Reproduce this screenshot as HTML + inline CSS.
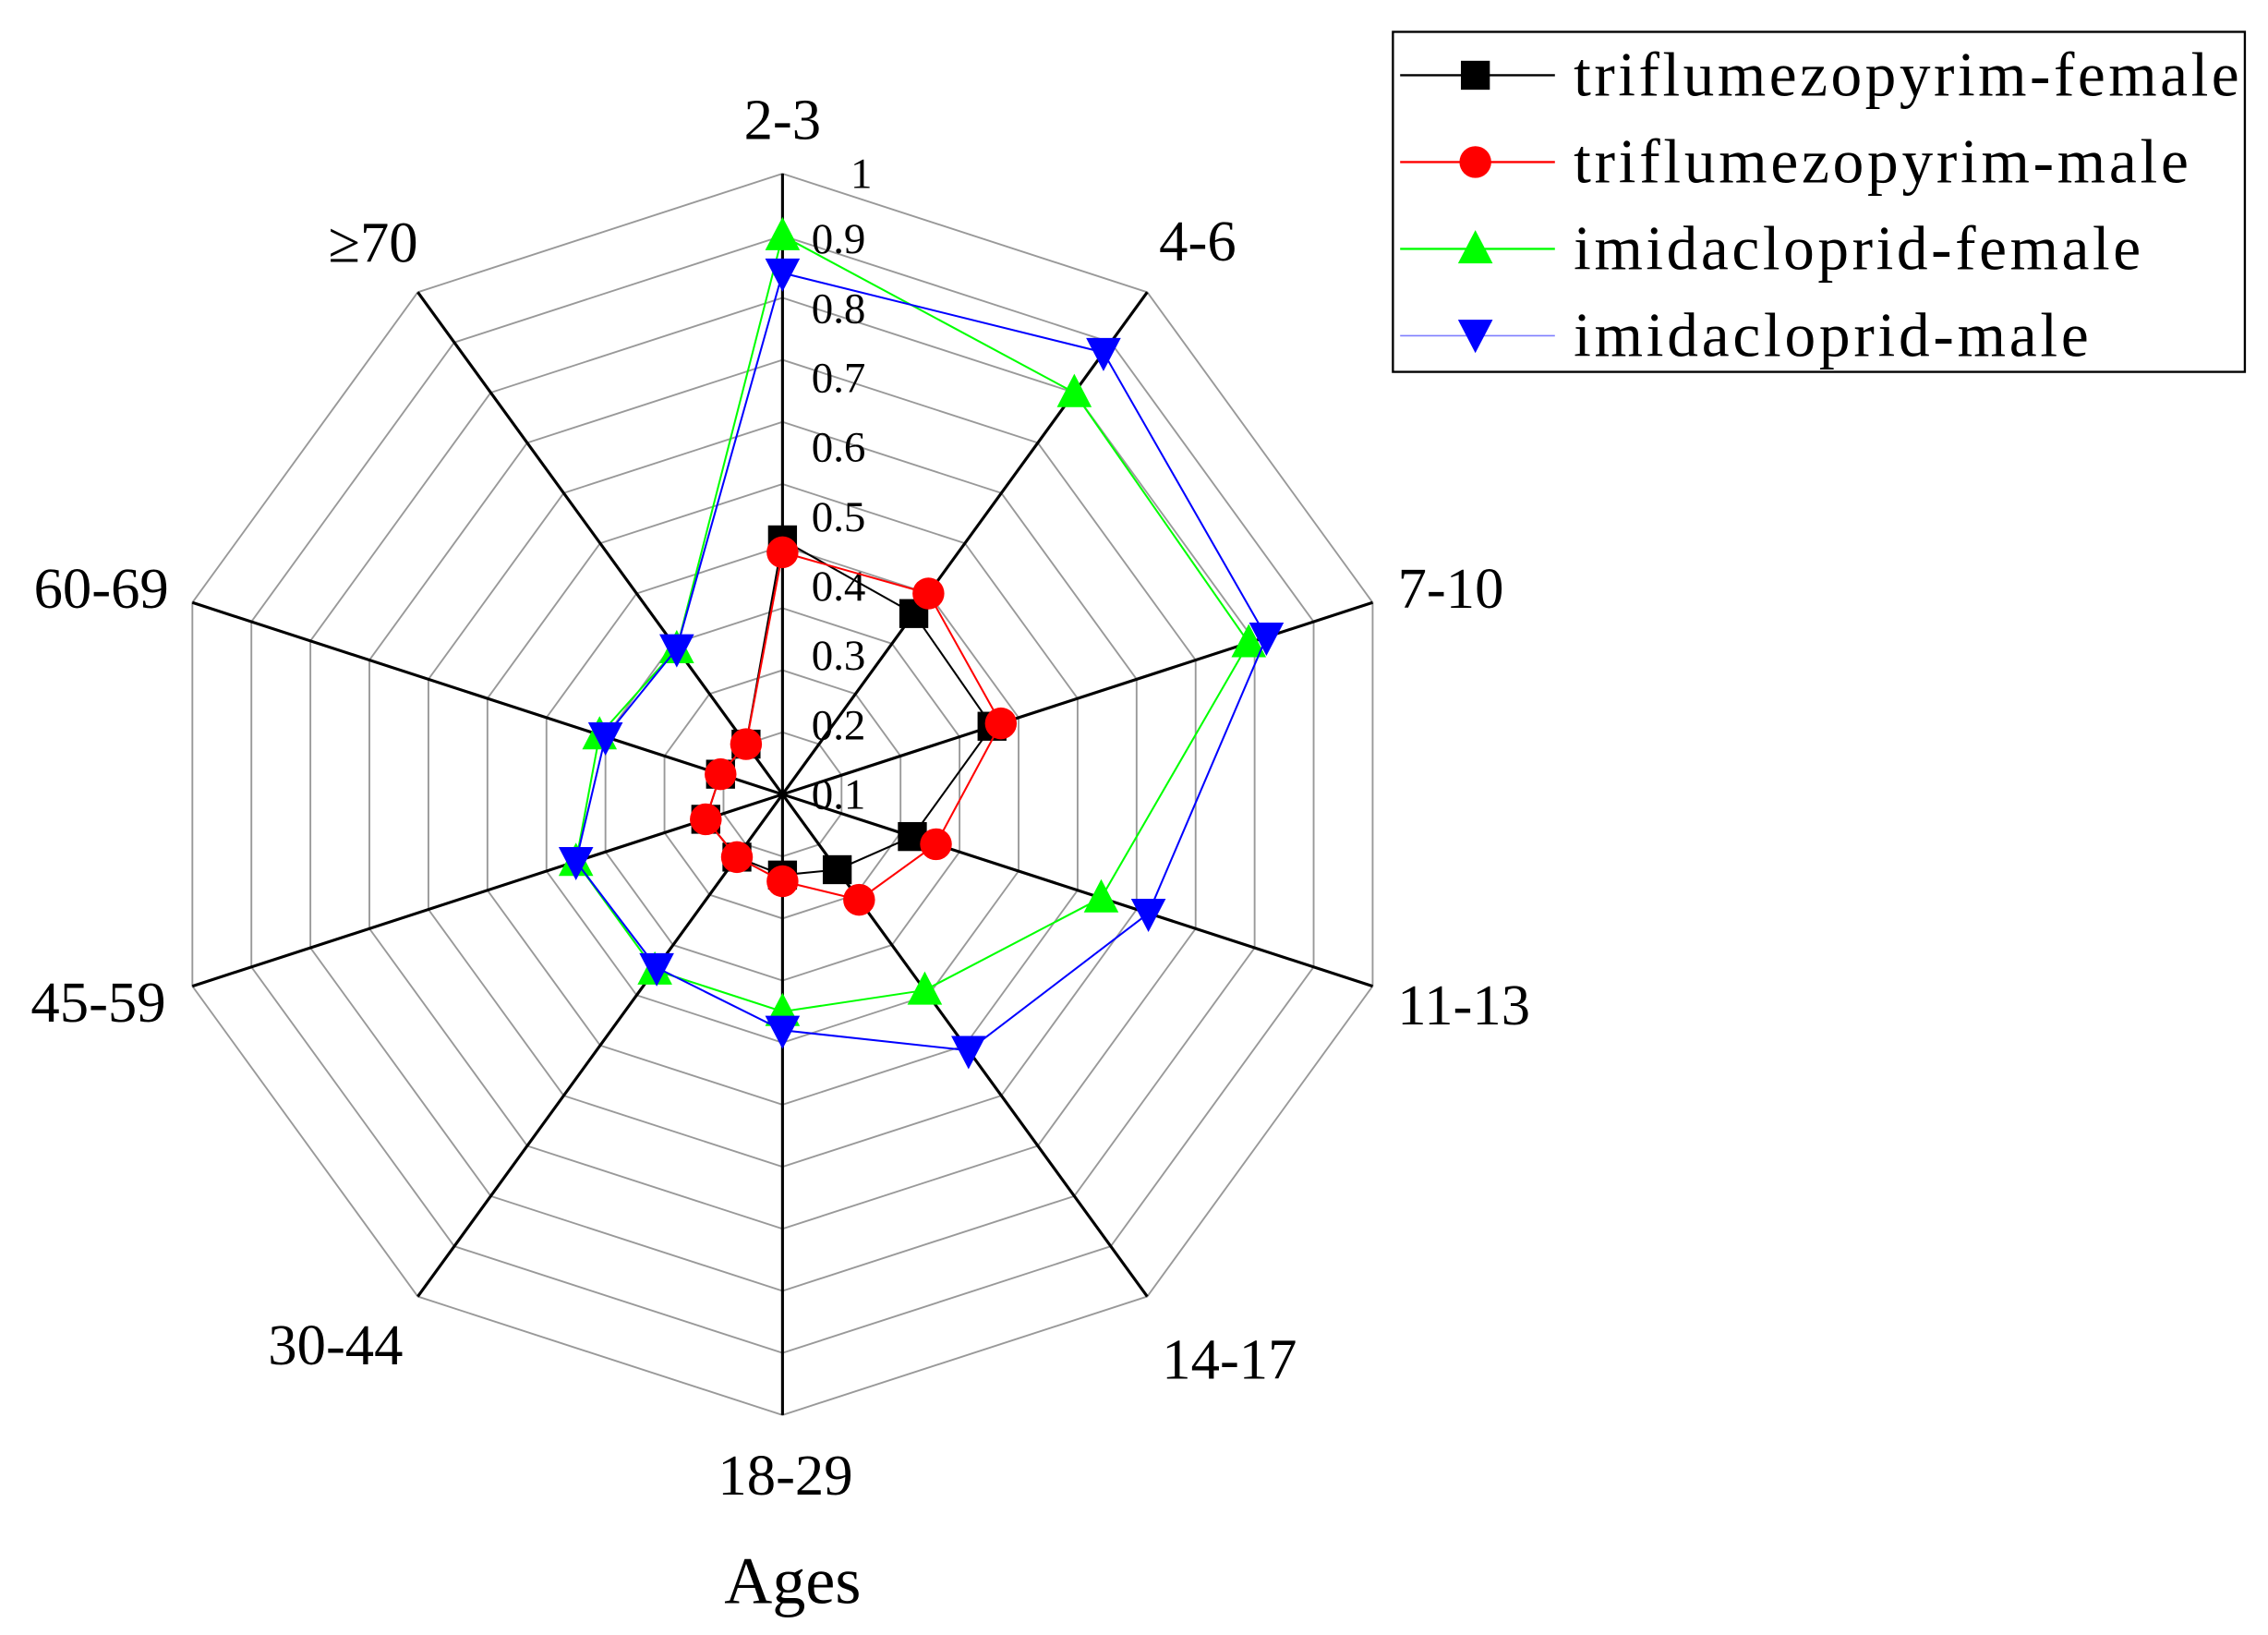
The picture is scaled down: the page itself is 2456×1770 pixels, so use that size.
<!DOCTYPE html>
<html><head><meta charset="utf-8"><style>html,body{margin:0;padding:0;background:#fff}svg{display:block}</style></head>
<body>
<svg width="2456" height="1770" viewBox="0 0 1568 1130" xmlns="http://www.w3.org/2000/svg" font-family="Liberation Serif, serif">
<g id="grid" fill="none" stroke="#999" stroke-width="1.2"></g>
<g id="axes" stroke="#000" stroke-width="2"></g>
<g id="ticks" font-size="30" fill="#000"></g>
<g id="series"></g>
<g font-size="40" fill="#000" text-anchor="middle">
<text x="541" y="96">2-3</text>
<text x="828" y="180">4-6</text>
<text x="1003" y="420">7-10</text>
<text x="1012" y="708">11-13</text>
<text x="850" y="953">14-17</text>
<text x="543" y="1033">18-29</text>
<text x="232" y="943">30-44</text>
<text x="68" y="706">45-59</text>
<text x="70" y="420">60-69</text>
<text x="258" y="181">≥70</text>
<text x="548" y="1108" font-size="46">Ages</text>
</g>
<g>
<rect x="963" y="22" width="589" height="235" fill="#fff" stroke="#000" stroke-width="1.5"/>
<line x1="968" y1="52" x2="1075" y2="52" stroke="#000" stroke-width="1.5"/><rect x="1010" y="42" width="20" height="20" fill="#000"/>
<line x1="968" y1="112" x2="1075" y2="112" stroke="#f00" stroke-width="1.5"/><circle cx="1020" cy="112" r="11" fill="#f00"/>
<line x1="968" y1="172" x2="1075" y2="172" stroke="#0f0" stroke-width="1.5"/><polygon points="1020,159 1032,182 1008,182" fill="#0f0"/>
<line x1="968" y1="232" x2="1075" y2="232" stroke="#00f" stroke-width="1" opacity="0.5"/><polygon points="1020,244 1032,221 1008,221" fill="#00f"/>
<g font-size="43" fill="#000"><text x="1088" y="66" textLength="460">triflumezopyrim-female</text><text x="1088" y="126" textLength="425">triflumezopyrim-male</text><text x="1088" y="186" textLength="392">imidacloprid-female</text><text x="1088" y="246" textLength="356">imidacloprid-male</text></g>
</g>
<script>
var cx=541,cy=549,R=429,ns="http://www.w3.org/2000/svg";
function pt(i,v){var a=i*Math.PI/5;return [cx+R*v*Math.sin(a),cy-R*v*Math.cos(a)];}
function el(t,at,p){var e=document.createElementNS(ns,t);for(var k in at)e.setAttribute(k,at[k]);p.appendChild(e);return e;}
var g=document.getElementById('grid');
for(var k=1;k<=10;k++){var ps=[];for(var i=0;i<10;i++)ps.push(pt(i,k/10).join(','));el('polygon',{points:ps.join(' ')},g);}
var ax=document.getElementById('axes');
for(var i=0;i<10;i++){var p=pt(i,1);el('line',{x1:cx,y1:cy,x2:p[0],y2:p[1]},ax);}
var tk=document.getElementById('ticks');
for(var k=1;k<=10;k++){var y=k==10?130:165+(9-k)*48+10;var t=el('text',{x:k==10?588:561,y:y},tk);t.textContent=k==10?'1':'0.'+k;}
var data=[
 ['#000','sq',[0.41,0.36,0.355,0.22,0.15,0.13,0.125,0.13,0.105,0.10]],
 ['#f00','ci',[0.39,0.40,0.37,0.26,0.21,0.14,0.125,0.13,0.105,0.10]],
 ['#0f0','up',[0.90,0.80,0.79,0.54,0.39,0.35,0.35,0.35,0.31,0.29]],
 ['#00f','dn',[0.84,0.88,0.82,0.62,0.51,0.38,0.345,0.35,0.30,0.29]]];
var sg=document.getElementById('series');
data.forEach(function(d){var ps=d[2].map(function(v,i){return pt(i,v);});
 el('polygon',{points:ps.map(function(p){return p.join(',')}).join(' '),fill:'none',stroke:d[0],'stroke-width':1.3},sg);
 ps.forEach(function(p){var x=p[0],y=p[1];
  if(d[1]=='sq')el('rect',{x:x-10,y:y-10,width:20,height:20,fill:d[0]},sg);
  else if(d[1]=='ci')el('circle',{cx:x,cy:y,r:11,fill:d[0]},sg);
  else if(d[1]=='up')el('polygon',{points:x+','+(y-13)+' '+(x+12)+','+(y+10)+' '+(x-12)+','+(y+10),fill:d[0]},sg);
  else el('polygon',{points:x+','+(y+13)+' '+(x+12)+','+(y-10)+' '+(x-12)+','+(y-10),fill:d[0]},sg);});});
</script>
</svg>
</body></html>
